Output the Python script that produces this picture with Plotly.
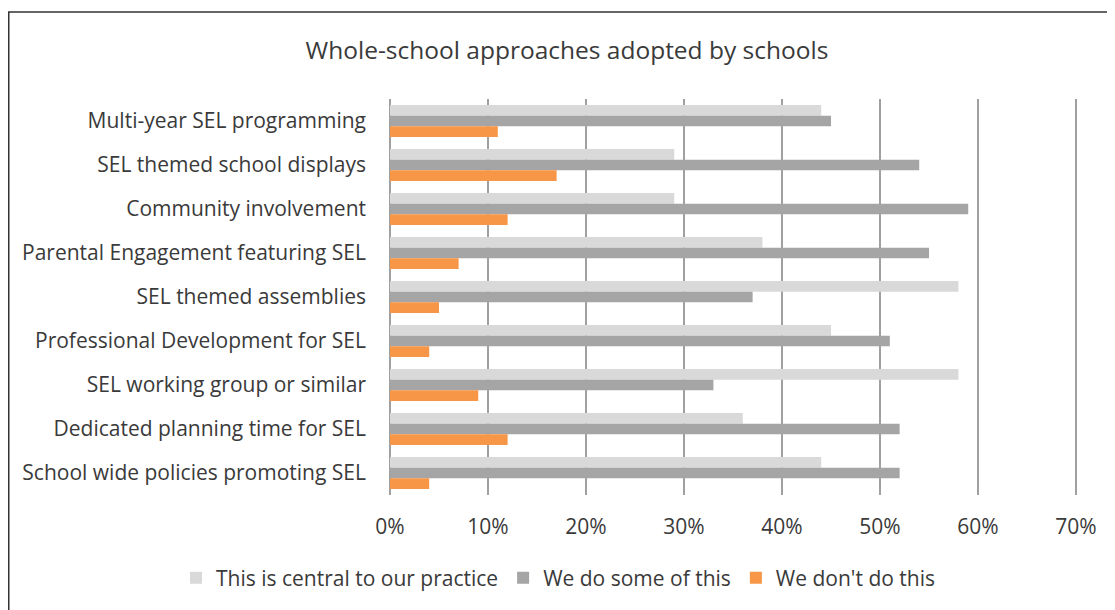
import plotly.graph_objects as go

categories = [
    "Multi-year SEL programming",
    "SEL themed school displays",
    "Community involvement",
    "Parental Engagement featuring SEL",
    "SEL themed assemblies",
    "Professional Development for SEL",
    "SEL working group or similar",
    "Dedicated planning time for SEL",
    "School wide policies promoting SEL",
]
central = [44, 29, 29, 38, 58, 45, 58, 36, 44]
some = [45, 54, 59, 55, 37, 51, 33, 52, 52]
dont = [11, 17, 12, 7, 5, 4, 9, 12, 4]
series_names = ["This is central to our practice", "We do some of this", "We don't do this"]
colors = ["#d9d9d9", "#a5a5a5", "#f79646"]
tick_vals = [0, 10, 20, 30, 40, 50, 60, 70]
tick_text = ["0%", "10%", "20%", "30%", "40%", "50%", "60%", "70%"]

fig = go.Figure()
for name, vals, col in zip(series_names, [central, some, dont], colors):
    fig.add_trace(go.Bar(
        y=categories, x=vals, name=name, orientation="h",
        marker=dict(color=col, line=dict(width=0)),
    ))

# page has an 8px body margin; figure coordinates are page coordinates minus 8
W, H = 1107, 602
L, T = 382, 91
R, B = W - 1070, H - 487
pw, ph = W - L - R, H - T - B

fig.update_layout(
    width=W, height=H,
    margin=dict(l=L, r=R, t=T, b=B, autoexpand=False),
    barmode="group", bargap=0.27, bargroupgap=0,
    paper_bgcolor="white", plot_bgcolor="white",
    font=dict(family="Open Sans, sans-serif", size=21, color="#3a3a3a"),
    title=dict(text="Whole-school approaches adopted by schools",
               x=559 / W, xanchor="center", y=1 - 42 / H, yanchor="middle",
               font=dict(size=24.5, color="#3a3a3a")),
    xaxis=dict(range=[0, 70.2], tickvals=tick_vals, ticktext=tick_text,
               showgrid=True, gridcolor="#a0a0a0", gridwidth=1.5,
               zeroline=True, zerolinecolor="#a0a0a0", zerolinewidth=1.5,
               showline=False, ticks="", ticklabelstandoff=17),
    yaxis=dict(autorange="reversed", showgrid=False, ticks="",
               ticklabelstandoff=23, showline=False),
    legend=dict(orientation="h", xref="paper", yref="paper",
                x=(168 - L) / pw, xanchor="left",
                y=(H - B - 570) / ph, yanchor="middle",
                font=dict(size=21), traceorder="normal"),
    showlegend=True,
)

# outer chart border (only top and left visible in frame)
fig.add_shape(type="rect", xref="paper", yref="paper",
              x0=(0.75 - L) / pw, x1=(W + 30 - L) / pw,
              y0=(H - B - (H + 30)) / ph, y1=(H - B - 4) / ph,
              line=dict(color="#333333", width=1.5), fillcolor="rgba(0,0,0,0)",
              layer="below")

fig.write_html("out.html")
